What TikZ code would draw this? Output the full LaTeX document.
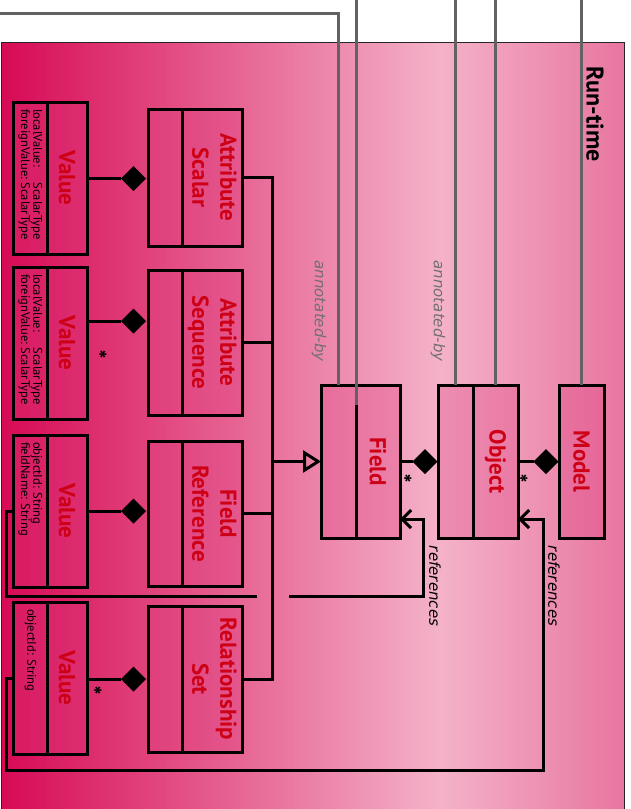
\documentclass[tikz,border=0pt]{standalone}
\usepackage{graphicx}
\usepackage{fontspec}
\setmainfont{PT Sans}
\newfontfamily\labelfont{DejaVu Sans}
\usetikzlibrary{arrows.meta,shapes.geometric}

\definecolor{namered}{RGB}{205,0,22}
\definecolor{bgdeep}{RGB}{215,10,85}
\definecolor{bglight}{RGB}{244,178,201}
\definecolor{bgright}{RGB}{232,118,160}
\definecolor{boxpink}{RGB}{222,56,124}
\definecolor{linkgray}{RGB}{98,98,98}
\definecolor{notegray}{RGB}{112,112,112}

% background of the run-time package: deep pink on the left, light in the middle
\pgfdeclarehorizontalshading{runtimebg}{100bp}{%
  color(0bp)=(bgdeep); color(25bp)=(bgdeep); color(60.2bp)=(bglight);
  color(75bp)=(bgright); color(100bp)=(bgright)}

\newcommand\downward[1]{\rotatebox{-90}{#1}}
\newcommand\twolines[2]{\downward{\begin{tabular}{@{}c@{}}#1\\#2\end{tabular}}}
\newcommand\attrlist[1]{\downward{\makebox[138pt][l]{\begin{tabular}{@{}l@{\ }l@{}}#1\end{tabular}}}}

\tikzset{
  compart/.style={rectangle, draw=black, line width=3pt, fill=boxpink,
    fill opacity=0.3, text opacity=1, inner sep=0pt, outer sep=0pt},
  classname/.style={font=\fontsize{23}{28}\selectfont\bfseries, text=namered},
  attrtext/.style={font=\fontsize{12.5}{11.5}\selectfont, text=black},
  conn/.style={draw=black, line width=3pt},
  annolink/.style={draw=linkgray, line width=3pt},
  comp/.style={diamond, aspect=1, fill=black, inner sep=0pt, outer sep=0pt,
    minimum width=25pt, minimum height=25pt},
  mult/.style={font=\fontsize{24}{24}\selectfont\bfseries, inner sep=0pt},
  rolelabel/.style={font=\labelfont\itshape\fontsize{15}{15}\selectfont,
    rotate=-90, inner sep=0pt},
  specialize/.style={-{Triangle[open, length=18pt, width=22pt]}},
  refarrow/.style={-{Straight Barb[length=9pt, width=18pt]}},
}

\begin{document}
\begin{tikzpicture}[x=1pt, y=-1pt]
\useasboundingbox (0,0) rectangle (630,809);
\begin{scope}
\clip (0,0) rectangle (630,809);

% package background
\shade[shading=runtimebg] (1,42) rectangle (624,815);
\draw[line width=1pt, black!85] (1,815) -- (1,42) -- (624,42) -- (624,815);
\node[font=\fontsize{24}{24}\selectfont\bfseries, rotate=-90, inner sep=0pt] (title) at (595,114) {Run-time};

% attribute classes
\node[compart, minimum width=34pt, minimum height=137pt] (asA) at (165,177.5) {};
\node[compart, classname, minimum width=60pt, minimum height=137pt] (asN) at (212,177.5) {\twolines{Attribute}{Scalar}};
\node[compart, minimum width=34pt, minimum height=145pt] (aqA) at (165,342.5) {};
\node[compart, classname, minimum width=60pt, minimum height=145pt] (aqN) at (212,342.5) {\twolines{Attribute}{Sequence}};
\node[compart, minimum width=34pt, minimum height=145pt] (frA) at (165,513.5) {};
\node[compart, classname, minimum width=60pt, minimum height=145pt] (frN) at (212,513.5) {\twolines{Field}{Reference}};
\node[compart, minimum width=34pt, minimum height=146pt] (rsA) at (165,679) {};
\node[compart, classname, minimum width=60pt, minimum height=146pt] (rsN) at (212,679) {\twolines{Relationship}{Set}};

% value classes
\node[compart, attrtext, minimum width=34pt, minimum height=152pt] (v1A) at (30,178) {\attrlist{localValue: & ScalarType\\ foreignValue: & ScalarType}};
\node[compart, classname, minimum width=40pt, minimum height=152pt] (v1N) at (67,178) {\downward{Value}};
\node[compart, attrtext, minimum width=34pt, minimum height=152pt] (v2A) at (30,343) {\attrlist{localValue: & ScalarType\\ foreignValue: & ScalarType}};
\node[compart, classname, minimum width=40pt, minimum height=152pt] (v2N) at (67,343) {\downward{Value}};
\node[compart, attrtext, minimum width=34pt, minimum height=152pt] (v3A) at (30,511) {\attrlist{objectId: String\\ fieldName: String}};
\node[compart, classname, minimum width=40pt, minimum height=152pt] (v3N) at (67,511) {\downward{Value}};
\node[compart, attrtext, minimum width=34pt, minimum height=152pt] (v4A) at (30,678) {\attrlist{objectId: String}};
\node[compart, classname, minimum width=40pt, minimum height=152pt] (v4N) at (67,678) {\downward{Value}};

% core classes
\node[compart, minimum width=35pt, minimum height=153pt] (fA) at (338.5,461.5) {};
\node[compart, classname, minimum width=44pt, minimum height=153pt] (fN) at (378,461.5) {\downward{Field}};
\node[compart, minimum width=35pt, minimum height=153pt] (oA) at (455.5,461.5) {};
\node[compart, classname, minimum width=45pt, minimum height=153pt] (oN) at (495.5,461.5) {\downward{Object}};
\node[compart, classname, minimum width=45pt, minimum height=153pt] (mN) at (581.5,461.5) {\downward{Model}};

% compositions
\node[comp] (d1) at (133.5,178.5) {};
\node[comp] (d2) at (133.5,321) {};
\node[comp] (d3) at (133.5,511) {};
\node[comp] (d4) at (133.5,679) {};
\node[comp] (dfo) at (425,461.5) {};
\node[comp] (dom) at (546,461.5) {};
\draw[conn] (d1.west -| v1N.east) -- (d1.west);
\draw[conn] (d2.west -| v2N.east) -- (d2.west);
\draw[conn] (d3.west -| v3N.east) -- (d3.west);
\draw[conn] (d4.west -| v4N.east) -- (d4.west);
\draw[conn] (fN.east) -- (dfo.west);
\draw[conn] (oN.east) -- (dom.west);
\node[mult] (m2) at (103,360) {*};
\node[mult] (m4) at (98,696) {*};
\node[mult] (mfo) at (408,484) {*};
\node[mult] (mom) at (524,484) {*};

% specialisation of Field
\coordinate (bus) at (272,461.5);
\draw[conn] (asN.east) -| (bus);
\draw[conn] (rsN.east) -| (bus);
\draw[conn] (aqN.east) -- (aqN.east -| bus);
\draw[conn] (frN.east) -- (frN.east -| bus);
\draw[conn, specialize] (bus) -- (fA.west);

% references
\coordinate (r1low) at (6,596);
\coordinate (r1gapL) at (257,596);
\coordinate (r1gapR) at (289,596);
\coordinate (r1up) at (423,519);
\draw[conn] (v3A.west) -| (r1low) -- (r1gapL);
\draw[conn, refarrow] (r1gapR) -| (r1up) -- (r1up -| fN.east);
\coordinate (r2low) at (6,770);
\coordinate (r2up) at (543,519);
\draw[conn, refarrow] (v4A.west) -| (r2low) -| (r2up) -- (r2up -| oN.east);
\node[rolelabel] (ref1) at (435,586) {references};
\node[rolelabel] (ref2) at (554,586) {references};

% annotations coming from above
\coordinate (top) at (0,0);
\coordinate (g1s) at (0,13);
\draw[annolink] (g1s) -| (fA.north);
\draw[annolink] (fA.north east |- top) -- ([yshift=-20pt]fA.north east);
\draw[annolink] (oA.north |- top) -- (oA.north);
\draw[annolink] (oN.north |- top) -- (oN.north);
\draw[annolink] (mN.north |- top) -- (mN.north);
\node[rolelabel, text=notegray] (ann1) at (319,311) {annotated-by};
\node[rolelabel, text=notegray] (ann2) at (438,311) {annotated-by};
\end{scope}
\end{tikzpicture}
\end{document}
